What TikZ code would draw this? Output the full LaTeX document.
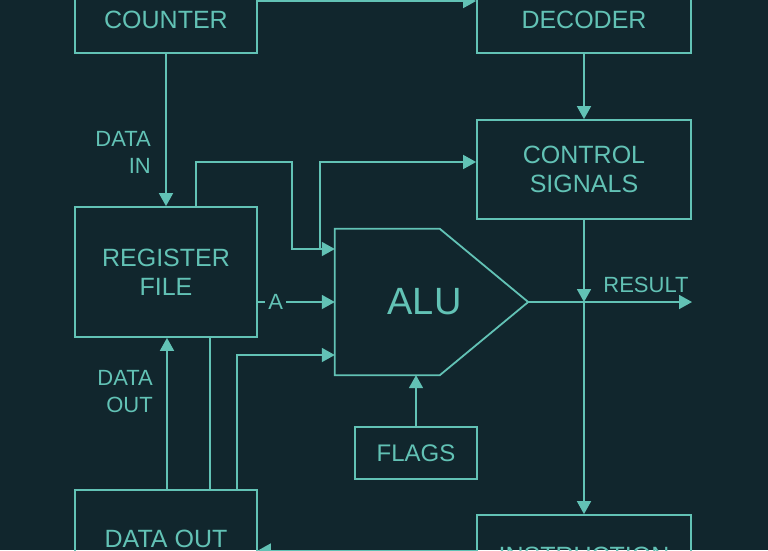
\documentclass[tikz,border=0pt]{standalone}
\usepackage{fontspec}
\setmainfont{Liberation Sans}
\usetikzlibrary{arrows.meta,calc}
\definecolor{bg}{RGB}{17,38,45}
\definecolor{fg}{RGB}{98,194,181}
\begin{document}
\begin{tikzpicture}[x=1pt,y=-1pt,
  every node/.style={text=fg},
  boxnode/.style={draw=fg, line width=1.8pt, inner sep=0pt, align=center,
    font=\fontsize{25}{29}\selectfont},
  lbl/.style={font=\fontsize{22}{27}\selectfont, inner sep=0pt, align=right},
  wire/.style={draw=fg, line width=1.8pt},
  arr/.style={wire, -{Triangle[length=13pt,width=14pt]}}]
\fill[bg] (0,0) rectangle (768,550);
\useasboundingbox (0,0) rectangle (768,550);
\clip (0,0) rectangle (768,550);
% boxes
\node[boxnode, minimum width=182, minimum height=95] (pc) at (166,5.5) {PROGRAM\\COUNTER};
\node[boxnode, minimum width=214, minimum height=95] (dec) at (584,5.5) {INSTRUCTION\\DECODER};
\node[boxnode, minimum width=214, minimum height=99] (ctrl) at (584,169.5) {CONTROL\\SIGNALS};
\node[boxnode, minimum width=182, minimum height=130] (reg) at (166,272) {REGISTER\\FILE};
\node[boxnode, minimum width=182, minimum height=98] (dout) at (166,539) {DATA OUT};
\node[boxnode, minimum width=214, minimum height=82] (instr) at (584,556) {INSTRUCTION};
\node[boxnode, minimum width=122, minimum height=52, font=\fontsize{24}{28}\selectfont] (flags) at (416,453) {FLAGS};
% ALU
\node[minimum width=193, minimum height=146, inner sep=0pt] (alu) at (431.5,302) {};
\draw[wire, line join=miter] (alu.north west) -- ($(alu.north west)+(105,0)$) -- (alu.east)
  -- ($(alu.south west)+(105,0)$) -- (alu.south west) -- cycle;
\node[font=\fontsize{38}{44}\selectfont, inner sep=0pt] (alulbl) at (424.5,302) {ALU};
% helper coordinates
\coordinate (ytop) at (0,1);
\coordinate (x167) at (167,0);
\coordinate (x196) at (196,0);
\coordinate (x210) at (210,0);
\coordinate (x237) at (237,0);
\coordinate (j1a) at (292,162);
\coordinate (j1b) at (292,249);
\coordinate (j2) at (320,249);
\coordinate (y162) at (0,162);
\coordinate (y355) at (0,355);
\coordinate (ybot) at (0,550.5);
\coordinate (res) at (692,302);
% connectors
\draw[arr] (pc.east |- ytop) -- (dec.west |- ytop);
\draw[arr] (dec.south) -- (ctrl.north);
\draw[arr] (pc.south) -- (reg.north);
\draw[arr] (reg.east |- alu.west) -- node[lbl, fill=bg, pos=0.23, inner sep=3pt] (alab) {A} (alu.west);
\draw[arr] (reg.north -| x196) |- (j1a) -- (j1b) -- (alu.west |- j1b);
\draw[arr] (j2) |- (ctrl.west |- y162);
\draw[arr] (alu.east) -- (res);
\draw[arr] (ctrl.south) -- (ctrl.south |- alu.east);
\draw[arr] (ctrl.south |- alu.east) -- (instr.north);
\draw[arr] (flags.north) -- (flags.north |- alu.south);
\draw[arr] (dout.north -| x167) -- (reg.south -| x167);
\draw[wire] (reg.south -| x210) -- (dout.north -| x210);
\draw[arr] (dout.north -| x237) |- (alu.west |- y355);
\draw[arr] (instr.west |- ybot) -- (dout.east |- ybot);
% labels
\node[lbl, anchor=east] (din) at (151,152.5) {DATA\\IN};
\node[lbl, anchor=east] (doutl) at (153,391.5) {DATA\\OUT};
\node[lbl, anchor=base] (resl) at (646,292) {RESULT};
\end{tikzpicture}
\end{document}
